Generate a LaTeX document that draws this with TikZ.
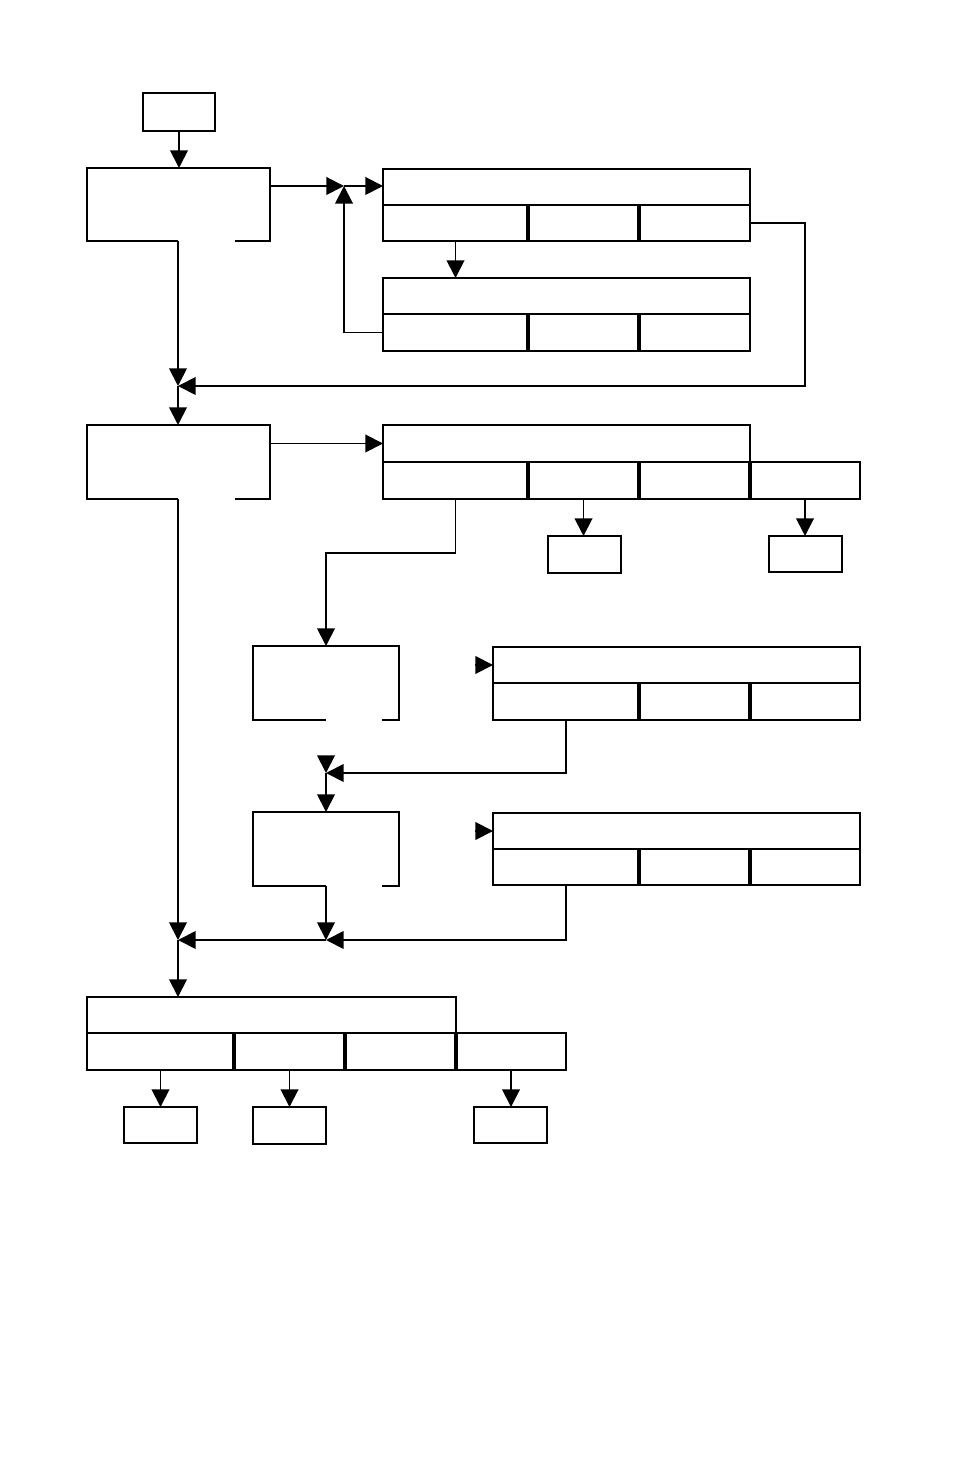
\documentclass[tikz,border=0pt]{standalone}
\usetikzlibrary{arrows.meta,positioning,calc}
\tikzset{
  x=0.01cm, y=-0.01cm,
  line/.style = {line width=0.55pt},
  cell/.style 2 args = {line, draw, inner sep=0pt, outer sep=0pt, anchor=north west,
    minimum width=#1*0.01cm, minimum height=#2*0.01cm},
  proc/.style 2 args = {inner sep=0pt, outer sep=0pt, anchor=north west,
    minimum width=#1*0.01cm, minimum height=#2*0.01cm},
  divider/.style = {line width=0.9pt},
  flow/.style = {line, -{Triangle[length=5pt,width=5pt]}}
}
\begin{document}
\begin{tikzpicture}
	\fill[white] (0,0) rectangle (954,1474);
	\useasboundingbox (0,0) rectangle (954,1474);
	% start and first block
	\node [cell={72}{38}] (start) at (143,93) {};
	\node [proc={183}{73}] (A) at (87,168) {};
	\draw [line] (235,241) -| (A.north east) -| (A.south west) -- (178,241);
	% first pair of tables
	\node [cell={367}{36}] (t1) at (383,169) {};
	\node [cell={145}{36}] (t1a) at (383,205) {};
	\node [cell={111}{36}] (t1b) at (528,205) {};
	\node [cell={111}{36}] (t1c) at (639,205) {};
	\node [cell={367}{36}] (t2) at (383,278) {};
	\node [cell={145}{37}] (t2a) at (383,314) {};
	\node [cell={111}{37}] (t2b) at (528,314) {};
	\node [cell={111}{37}] (t2c) at (639,314) {};
	\draw [divider] (t1b.north west) -- (t1b.south west) (t1c.north west) -- (t1c.south west);
	\draw [divider] (t2b.north west) -- (t2b.south west) (t2c.north west) -- (t2c.south west);
	\coordinate (j1) at (344,186);
	\coordinate (j2) at (178,386);
	\draw [flow] (start.south) -- (start.south |- A.north);
	\draw [flow] (A.east |- j1) -- (j1);
	\draw [flow] (j1) -- (t1.west |- j1);
	\draw [flow] (t1a.south) -- (t1a.south |- t2.north);
	\draw [flow] (t2a.west) -| (j1);
	\draw [flow] (t1c.east) -- (805,223) |- (j2);
	\draw [flow] (178,241) -- (j2);
	% second block
	\node [proc={183}{74}] (B) at (87,425) {};
	\draw [line] (235,499) -| (B.north east) -| (B.south west) -- (178,499);
	\draw [flow] (j2) -- (j2 |- B.north);
	\node [cell={367}{37}] (t3) at (383,425) {};
	\node [cell={145}{37}] (t3a) at (383,462) {};
	\node [cell={111}{37}] (t3b) at (528,462) {};
	\node [cell={111}{37}] (t3c) at (639,462) {};
	\node [cell={110}{37}] (t3d) at (750,462) {};
	\draw [divider] (t3b.north west) -- (t3b.south west) (t3c.north west) -- (t3c.south west)
		(t3d.north west) -- (t3d.south west);
	\node [cell={73}{37}] (L1) at (548,536) {};
	\node [cell={73}{36}] (L2) at (769,536) {};
	\draw [flow] (B.east |- t3.west) -- (t3.west);
	\draw [flow] (t3b.south) -- (t3b.south |- L1.north);
	\draw [flow] (t3d.south) -- (t3d.south |- L2.north);
	% inner loop
	\node [proc={146}{74}] (C) at (253,646) {};
	\draw [line] (382,720) -| (C.north east) -| (C.south west) -- (326,720);
	\node [proc={146}{74}] (D) at (253,812) {};
	\draw [line] (382,886) -| (D.north east) -| (D.south west) -- (326,886);
	\draw [flow] (t3a.south) -- ++(0,54) -| (C.north);
	\node [cell={367}{36}] (t4) at (493,647) {};
	\node [cell={146}{37}] (t4a) at (493,683) {};
	\node [cell={111}{37}] (t4b) at (639,683) {};
	\node [cell={110}{37}] (t4c) at (750,683) {};
	\node [cell={367}{36}] (t5) at (493,813) {};
	\node [cell={146}{36}] (t5a) at (493,849) {};
	\node [cell={111}{36}] (t5b) at (639,849) {};
	\node [cell={110}{36}] (t5c) at (750,849) {};
	\draw [divider] (t4b.north west) -- (t4b.south west) (t4c.north west) -- (t4c.south west);
	\draw [divider] (t5b.north west) -- (t5b.south west) (t5c.north west) -- (t5c.south west);
	\coordinate (s4) at (475,665);
	\coordinate (s5) at (475,831);
	\coordinate (s3) at (326,757);
	\coordinate (j3) at (326,773);
	\coordinate (j4) at (326,940);
	\coordinate (j5) at (178,940);
	\draw [flow] (s4) -- (t4.west);
	\draw [flow] (s5) -- (t5.west);
	\draw [flow] (t4a.south) |- (j3);
	\draw [flow] (s3) -- (j3);
	\draw [flow] (j3) -- (D.north);
	\draw [flow] (t5a.south) |- (j4);
	\draw [flow] (326,886) -- (j4);
	\draw [flow] (j4) -- (j5);
	\draw [flow] (178,499) -- (j5);
	% last table
	\node [cell={369}{36}] (t6) at (87,997) {};
	\node [cell={147}{37}] (t6a) at (87,1033) {};
	\node [cell={111}{37}] (t6b) at (234,1033) {};
	\node [cell={111}{37}] (t6c) at (345,1033) {};
	\node [cell={110}{37}] (t6d) at (456,1033) {};
	\draw [divider] (t6b.north west) -- (t6b.south west) (t6c.north west) -- (t6c.south west)
		(t6d.north west) -- (t6d.south west);
	\draw [flow] (j5) -- (j5 |- t6.north);
	\node [cell={73}{36}] (M1) at (124,1107) {};
	\node [cell={73}{37}] (M2) at (253,1107) {};
	\node [cell={73}{36}] (M3) at (474,1107) {};
	\draw [flow] (t6a.south) -- (t6a.south |- M1.north);
	\draw [flow] (t6b.south) -- (t6b.south |- M2.north);
	\draw [flow] (t6d.south) -- (t6d.south |- M3.north);
\end{tikzpicture}
\end{document}
